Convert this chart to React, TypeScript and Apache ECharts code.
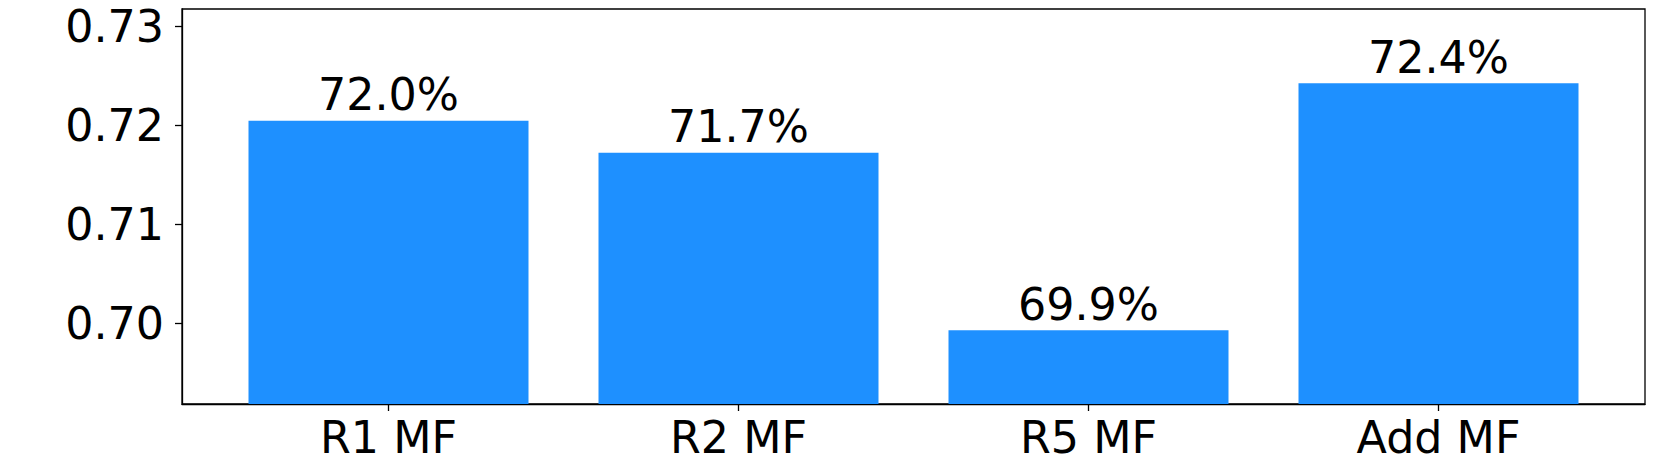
import React, { useEffect, useRef } from "react";
import * as echarts from "echarts";

const categories = ["R1 MF", "R2 MF", "R5 MF", "Add MF"];
const values = [0.72043, 0.7172, 0.69926, 0.72421];
const yTicks = [0.7, 0.71, 0.72, 0.73];
const yMin = 0.69182;
const yMax = 0.73172;

const FONT = "DejaVu Sans";
const FS = 44.4;

export default function App() {
  const ref = useRef<HTMLDivElement>(null);
  useEffect(() => {
    if (!ref.current) return;
    const chart = echarts.init(ref.current, null, { renderer: "svg" });
    const xIdx = categories.map((_, i) => i);
    chart.setOption({
      animation: false,
      backgroundColor: "#ffffff",
      grid: {
        left: 182,
        top: 9,
        right: 16,
        bottom: 61,
        show: true,
        borderColor: "#000",
        borderWidth: 1.3,
        backgroundColor: "transparent",
      },
      xAxis: {
        type: "value",
        min: -0.59,
        max: 3.59,
        splitLine: { show: false },
        axisLine: { show: true, onZero: false, lineStyle: { color: "#000", width: 1.3 } },
        axisTick: {
          show: true,
          length: 7,
          lineStyle: { color: "#000", width: 1.3 },
          customValues: xIdx,
        },
        axisLabel: {
          customValues: xIdx,
          formatter: (v: number) => categories[Math.round(v)] ?? "",
          fontFamily: FONT,
          fontSize: FS,
          color: "#000",
          margin: 11,
        },
      },
      yAxis: {
        type: "value",
        min: yMin,
        max: yMax,
        splitLine: { show: false },
        axisLine: { show: true, onZero: false, lineStyle: { color: "#000", width: 1.3 } },
        axisTick: {
          show: true,
          length: 7,
          lineStyle: { color: "#000", width: 1.3 },
          customValues: yTicks,
        },
        axisLabel: {
          customValues: yTicks,
          formatter: (v: number) => v.toFixed(2),
          fontFamily: FONT,
          fontSize: FS,
          color: "#000",
          margin: 18,
        },
      },
      series: [
        {
          type: "bar",
          barWidth: 280,
          data: values.map((v, i) => [xIdx[i], v]),
          itemStyle: { color: "#1E90FF" },
          label: {
            show: true,
            position: "top",
            distance: 4,
            fontFamily: FONT,
            fontSize: FS,
            color: "#000",
            formatter: (p: any) => (p.value[1] * 100).toFixed(1) + "%",
          },
        },
      ],
    });
    return () => chart.dispose();
  }, []);
  return (
    <div
      ref={ref}
      style={{ position: "fixed", left: 0, top: 0, width: 1661, height: 465 }}
    />
  );
}
